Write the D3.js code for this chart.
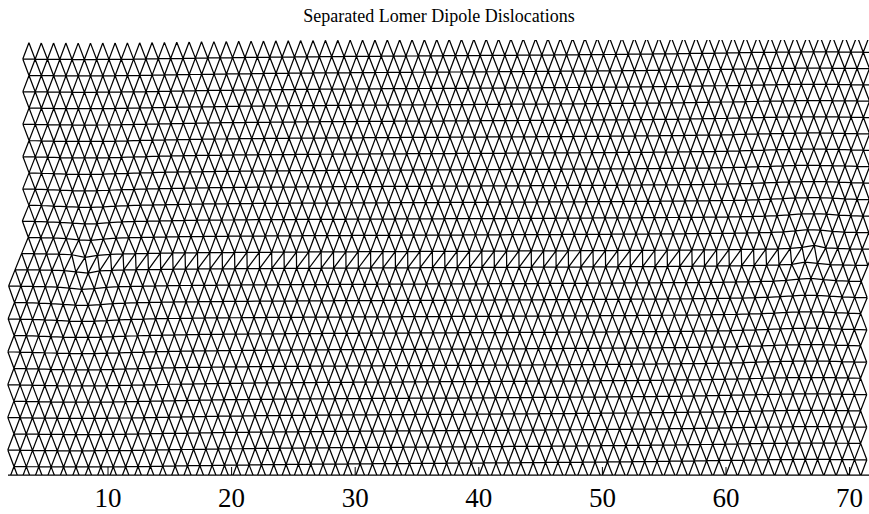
<!DOCTYPE html>
<html>
<head>
<meta charset="utf-8">
<script src="https://cdn.jsdelivr.net/npm/d3@7"></script>
<style>
  body { margin: 0; background: #fff; }
  svg { display: block; }
</style>
</head>
<body>
<script>
// lattice description (lattice constant = 1 along x)
const rowCount = 28;               // rows of atoms, counted from the top
const upperStartX = [3.5, 3.0];    // first atom of even / odd rows above the slip plane
const upperEndX = [72.5, 73.0];
const lowerStartX = [2.5, 2.0];    // first atom of even / odd rows below the slip plane
const lowerEndX = [71.5, 71.0];
const coreX = [8.2, 66.8];         // positions of the two dislocations
const burgers = [-0.5, 0.5];       // Burgers vectors of the dipole
const coreStrain = [2.2, 2.2];     // extra strength of the core distortion
const slipRow = 13.5;              // slip plane lies between rows 13 and 14
const poisson = 1 / 3;
const xTicks = [10, 20, 30, 40, 50, 60, 70];
const title = 'Separated Lomer Dipole Dislocations';

const width = 869, height = 514;
const rowH = Math.sqrt(3) / 2;

const svg = d3.select('body').append('svg')
  .attr('width', width)
  .attr('height', height);

const x = d3.scaleLinear().domain([10, 70]).range([108, 849.6]);
const y = d3.scaleLinear().domain([0, (rowCount - 1) * rowH]).range([479.5, 39.4]);

function displace(px, py) {
  let ux = 0, uy = 0;
  const yc = (rowCount - 1 - slipRow) * rowH;
  coreX.forEach((cx, i) => {
    const b = burgers[i], s = coreStrain[i];
    const dx = px - cx, dy = py - yc;
    const r2 = dx * dx + dy * dy;
    const th = Math.atan2(dy, dx);
    ux += b / (2 * Math.PI) * (th + s * dx * dy / (2 * (1 - poisson) * r2));
    uy += -s * b / (2 * Math.PI) * ((1 - 2 * poisson) / (4 * (1 - poisson)) * Math.log(r2) +
      (dx * dx - dy * dy) / (4 * (1 - poisson) * r2));
  });
  return [px + ux, py + uy];
}

// atoms
const atoms = [];
const atomRow = [];
for (let k = 0; k < rowCount; k++) {
  const py = (rowCount - 1 - k) * rowH;
  const upper = k < slipRow;
  const x0 = (upper ? upperStartX : lowerStartX)[k % 2];
  const x1 = (upper ? upperEndX : lowerEndX)[k % 2];
  for (let px = x0; px <= x1 + 1e-9; px += 1) {
    atoms.push(displace(px, py));
    atomRow.push(k);
  }
}

// bonds from the triangulation, dropping long hull edges and the open top row
const delaunay = d3.Delaunay.from(atoms);
const seen = new Set();
let pathData = '';
const tri = delaunay.triangles;
for (let t = 0; t < tri.length; t += 3) {
  for (let e = 0; e < 3; e++) {
    const a = tri[t + e], b = tri[t + (e + 1) % 3];
    const key = a < b ? a + '_' + b : b + '_' + a;
    if (seen.has(key)) continue;
    seen.add(key);
    if (atomRow[a] === 0 && atomRow[b] === 0) continue;
    const p = atoms[a], q = atoms[b];
    if (Math.hypot(p[0] - q[0], p[1] - q[1]) > 1.45) continue;
    pathData += 'M' + x(p[0]).toFixed(2) + ',' + y(p[1]).toFixed(2) +
      'L' + x(q[0]).toFixed(2) + ',' + y(q[1]).toFixed(2);
  }
}

svg.append('clipPath').attr('id', 'plot')
  .append('rect').attr('x', 0).attr('y', 40).attr('width', width).attr('height', 435);

svg.append('path')
  .attr('clip-path', 'url(#plot)')
  .attr('d', pathData)
  .attr('fill', 'none')
  .attr('stroke', '#000')
  .attr('stroke-width', 1.25);

// axis
svg.append('line')
  .attr('x1', 8).attr('x2', width)
  .attr('y1', 475).attr('y2', 475)
  .attr('stroke', '#000').attr('stroke-width', 1.25);

svg.selectAll('.tick')
  .data(xTicks)
  .join('line')
  .attr('x1', d => x(d)).attr('x2', d => x(d))
  .attr('y1', 475).attr('y2', 467)
  .attr('stroke', '#000').attr('stroke-width', 1);

svg.selectAll('.tlabel')
  .data(xTicks)
  .join('text')
  .attr('x', d => x(d))
  .attr('y', 507)
  .attr('text-anchor', 'middle')
  .style('font-family', '"Liberation Serif", serif')
  .style('font-size', '27px')
  .text(d => d);

svg.append('text')
  .attr('x', 439)
  .attr('y', 22)
  .attr('text-anchor', 'middle')
  .style('font-family', '"Liberation Serif", serif')
  .style('font-size', '18px')
  .text(title);
</script>
</body>
</html>
